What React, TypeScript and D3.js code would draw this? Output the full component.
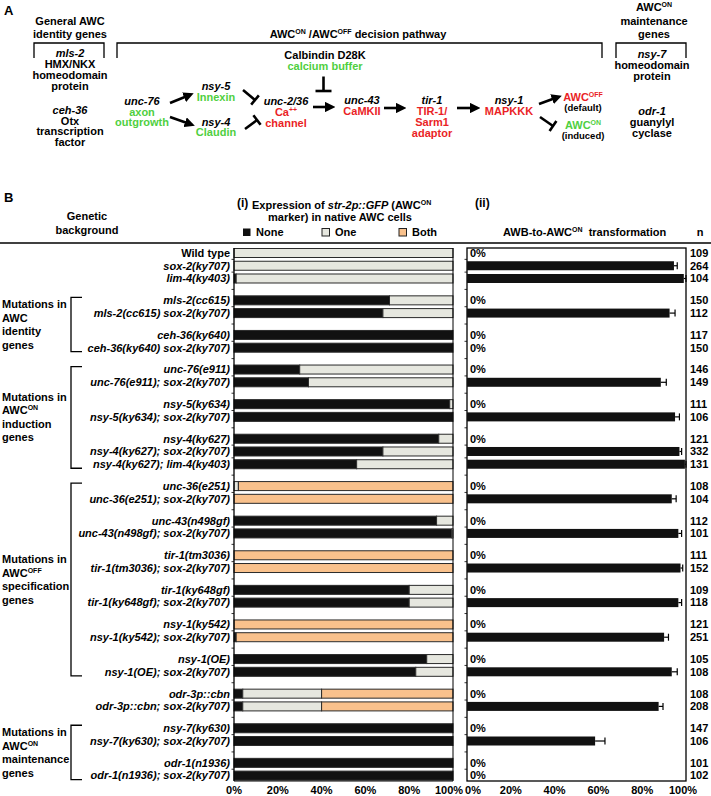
import React from "react";
import * as d3 from "d3";

const rowLabels = [
  "Wild type", "sox-2(ky707)", "lim-4(ky403)",
  "mls-2(cc615)", "mls-2(cc615) sox-2(ky707)",
  "ceh-36(ky640)", "ceh-36(ky640) sox-2(ky707)",
  "unc-76(e911)", "unc-76(e911); sox-2(ky707)",
  "nsy-5(ky634)", "nsy-5(ky634); sox-2(ky707)",
  "nsy-4(ky627)", "nsy-4(ky627); sox-2(ky707)", "nsy-4(ky627); lim-4(ky403)",
  "unc-36(e251)", "unc-36(e251); sox-2(ky707)",
  "unc-43(n498gf)", "unc-43(n498gf); sox-2(ky707)",
  "tir-1(tm3036)", "tir-1(tm3036); sox-2(ky707)",
  "tir-1(ky648gf)", "tir-1(ky648gf); sox-2(ky707)",
  "nsy-1(ky542)", "nsy-1(ky542); sox-2(ky707)",
  "nsy-1(OE)", "nsy-1(OE); sox-2(ky707)",
  "odr-3p::cbn", "odr-3p::cbn; sox-2(ky707)",
  "nsy-7(ky630)", "nsy-7(ky630); sox-2(ky707)",
  "odr-1(n1936)", "odr-1(n1936); sox-2(ky707)",
];
const groupSizes = [3, 2, 2, 2, 2, 3, 2, 2, 2, 2, 2, 2, 2, 2, 2];

const noneVals = [0, 0, 1, 71, 68, 100, 100, 30, 34, 98.5, 100, 93.5, 68, 56, 0, 0, 92.5, 99.5, 0, 0, 80, 80, 0, 1, 88, 83, 4, 4, 100, 100, 100, 100];
const oneVals = [100, 100, 99, 29, 32, 0, 0, 70, 66, 1.5, 0, 6.5, 32, 44, 2, 0, 7.5, 0.5, 0, 0, 20, 20, 0, 0, 12, 17, 36, 36, 0, 0, 0, 0];
const bothVals = [0, 0, 0, 0, 0, 0, 0, 0, 0, 0, 0, 0, 0, 0, 98, 100, 0, 0, 100, 100, 0, 0, 100, 99, 0, 0, 60, 60, 0, 0, 0, 0];

const transVals = [0, 94.5, 99, 0, 92.5, 0, 0, 0, 88.5, 0, 95, 0, 97, 99.5, 0, 93.5, 0, 96.5, 0, 97.5, 0, 96.5, 0, 90, 0, 93.5, 0, 87.5, 0, 58.5, 0, 0];
const transErr = [0, 1.5, 1, 0, 2.5, 0, 0, 0, 2.5, 0, 2, 0, 1, 0.5, 0, 2, 0, 1.5, 0, 1, 0, 1.5, 0, 2, 0, 2.5, 0, 2, 0, 4.5, 0, 0];
const nVals = [109, 264, 104, 150, 112, 117, 150, 146, 149, 111, 106, 121, 332, 131, 108, 104, 112, 101, 111, 152, 109, 118, 121, 251, 105, 108, 108, 208, 147, 106, 101, 102];

const xTicks = [0, 20, 40, 60, 80, 100];

const bracketGroups = [
  { first: 3, last: 6, lines: [["Mutations in"], ["AWC"], ["identity"], ["genes"]] },
  { first: 7, last: 13, lines: [["Mutations in"], ["AWC", "ON"], ["induction"], ["genes"]] },
  { first: 14, last: 25, lines: [["Mutations in"], ["AWC", "OFF"], ["specification"], ["genes"]] },
  { first: 28, last: 31, lines: [["Mutations in"], ["AWC", "ON"], ["maintenance"], ["genes"]] },
];

const FONT = "'Liberation Sans', Arial, Helvetica, sans-serif";
const GREEN = "#4fcf3f";
const RED = "#ea1f26";
const NONE_C = "#111111";
const ONE_C = "#e6e7df";
const BOTH_C = "#f9c18c";

// row index -> position index including group gaps
const rowPos: number[] = [];
{
  let i = 0;
  groupSizes.forEach((s, g) => {
    for (let k = 0; k < s; k++) {
      rowPos.push(i + g * 0.714);
      i++;
    }
  });
}

const W = 711, H = 796;

function Sup({ base, sup, x, y, anchor = "middle", fill = "#000", size = 11, supSize = 7 }: any) {
  return (
    <text x={x} y={y} textAnchor={anchor} fill={fill} fontSize={size} fontWeight="bold" dy="0.35em">
      {base}
      <tspan fontSize={supSize} dy={-4}>{sup}</tspan>
    </text>
  );
}

function T({ x, y, children, fill = "#000", italic = false, size = 11, anchor = "middle" }: any) {
  return (
    <text x={x} y={y} dy="0.35em" textAnchor={anchor} fill={fill} fontSize={size} fontWeight="bold" fontStyle={italic ? "italic" : "normal"}>
      {children}
    </text>
  );
}

function Arrow({ x1, y1, x2, y2 }: any) {
  return <line x1={x1} y1={y1} x2={x2} y2={y2} stroke="#000" strokeWidth={2.6} markerEnd="url(#ah)" />;
}

function Inhibit({ x1, y1, x2, y2, half = 7 }: any) {
  const dx = x2 - x1, dy = y2 - y1;
  const L = Math.hypot(dx, dy);
  const px = -dy / L, py = dx / L;
  return (
    <g stroke="#000" strokeWidth={2.6}>
      <line x1={x1} y1={y1} x2={x2} y2={y2} />
      <line x1={x2 + px * half} y1={y2 + py * half} x2={x2 - px * half} y2={y2 - py * half} />
    </g>
  );
}

export default function App() {
  const xI = d3.scaleLinear().domain([0, 100]).range([234, 453]);
  const xII = d3.scaleLinear().domain([0, 100]).range([467, 686]);
  const maxPos = rowPos[rowPos.length - 1];
  const y = d3.scaleLinear().domain([0, maxPos]).range([253, 775.6]);
  const rowY = (i: number) => y(rowPos[i]);
  const barH = 9;
  const plotTop = 248, plotBot = 781;

  const midTicks: number[] = [];
  for (let i = 0; i < rowLabels.length - 1; i++) midTicks.push((rowY(i) + rowY(i + 1)) / 2);

  return (
    <svg width={W} height={H} style={{ position: "absolute", left: 0, top: 0, background: "#fff" }} fontFamily={FONT}>
      <defs>
        <marker id="ah" viewBox="0 0 10 10" refX="2" refY="5" markerWidth="4" markerHeight="4" orient="auto">
          <path d="M0,0 L10,5 L0,10 z" fill="#000" />
        </marker>
      </defs>
      <rect x={0} y={0} width={W} height={H} fill="#fff" />

      {/* ===== Panel A ===== */}
      <T x={4} y={10} size={13} anchor="start">A</T>
      <T x={70} y={21}>General AWC</T>
      <T x={70} y={34}>identity genes</T>
      <path d="M34,58 V43 H104 V58" fill="none" stroke="#000" strokeWidth={1.3} />
      <path d="M117,58 V43 H602 V58" fill="none" stroke="#000" strokeWidth={1.3} />
      <path d="M616,58 V43 H686 V58" fill="none" stroke="#000" strokeWidth={1.3} />

      <text x={358} y={34} dy="0.35em" textAnchor="middle" fontSize={11} fontWeight="bold">
        AWC<tspan fontSize={7} dy={-4}>ON</tspan><tspan dy={4}> /AWC</tspan><tspan fontSize={7} dy={-4}>OFF</tspan><tspan dy={4}> decision pathway</tspan>
      </text>
      <Sup base="AWC" sup="ON" x={654} y={7} />
      <T x={654} y={21}>maintenance</T>
      <T x={654} y={34}>genes</T>

      <T x={70} y={53.5} italic>mls-2</T>
      <T x={70} y={64.3}>HMX/NKX</T>
      <T x={70} y={75.1}>homeodomain</T>
      <T x={70} y={85.9}>protein</T>
      <T x={70} y={110} italic>ceh-36</T>
      <T x={70} y={120.8}>Otx</T>
      <T x={70} y={131.6}>transcription</T>
      <T x={70} y={142.4}>factor</T>

      <T x={652} y={54.3} italic>nsy-7</T>
      <T x={652} y={65.1}>homeodomain</T>
      <T x={652} y={75.9}>protein</T>
      <T x={652} y={111.2} italic>odr-1</T>
      <T x={652} y={122}>guanylyl</T>
      <T x={652} y={132.8}>cyclase</T>

      <T x={325} y={55.4}>Calbindin D28K</T>
      <T x={325} y={66.2} fill={GREEN}>calcium buffer</T>
      <Inhibit x1={323.5} y1={76.5} x2={323.5} y2={91} half={8} />

      <T x={142} y={101} italic>unc-76</T>
      <T x={142} y={111.8} fill={GREEN}>axon</T>
      <T x={142} y={122.6} fill={GREEN}>outgrowth</T>
      <Arrow x1={170} y1={103} x2={186} y2={96.5} />
      <Arrow x1={170} y1={117} x2={187} y2={123} />

      <T x={216} y={86.3} italic>nsy-5</T>
      <T x={216} y={97.1} fill={GREEN}>Innexin</T>
      <T x={216} y={121.8} italic>nsy-4</T>
      <T x={216} y={132.6} fill={GREEN}>Claudin</T>
      <Inhibit x1={243} y1={90} x2={255} y2={100} half={6} />
      <Inhibit x1={245} y1={129} x2={257} y2={120} half={6} />

      <T x={286} y={101} italic>unc-2/36</T>
      <text x={286} y={112} dy="0.35em" textAnchor="middle" fontSize={11} fontWeight="bold" fill={RED}>
        Ca<tspan fontSize={7} dy={-4}>++</tspan>
      </text>
      <T x={286} y={123} fill={RED}>channel</T>
      <Arrow x1={313} y1={107} x2={327} y2={107} />

      <T x={362} y={100} italic>unc-43</T>
      <T x={362} y={111} fill={RED}>CaMKII</T>
      <Arrow x1={384} y1={108} x2={398} y2={108} />

      <T x={432} y={100} italic>tir-1</T>
      <T x={432} y={111} fill={RED}>TIR-1/</T>
      <T x={432} y={122} fill={RED}>Sarm1</T>
      <T x={432} y={133} fill={RED}>adaptor</T>
      <Arrow x1={457} y1={108} x2={472} y2={108} />

      <T x={509} y={100} italic>nsy-1</T>
      <T x={509} y={111} fill={RED}>MAPKKK</T>
      <Arrow x1={539} y1={104} x2={554} y2={98.5} />
      <Inhibit x1={540} y1={117} x2={553} y2={126} half={6} />

      <Sup base="AWC" sup="OFF" x={583} y={97} fill={RED} />
      <T x={583} y={107.8} size={9.5}>(default)</T>
      <Sup base="AWC" sup="ON" x={583} y={125} fill={GREEN} />
      <T x={583} y={136} size={9.5}>(induced)</T>

      {/* ===== Panel B headers ===== */}
      <T x={4} y={197} size={13} anchor="start">B</T>
      <T x={87} y={216}>Genetic</T>
      <T x={87} y={230}>background</T>

      <T x={237} y={203} size={12} anchor="start">(i)</T>
      <text x={252} y={205} dy="0.35em" fontSize={11} fontWeight="bold">
        Expression of <tspan fontStyle="italic">str-2p::GFP</tspan> (AWC<tspan fontSize={7} dy={-4}>ON</tspan>
      </text>
      <T x={340} y={217}>marker) in native AWC cells</T>
      <rect x={243} y={228.5} width={7.5} height={7.5} fill={NONE_C} />
      <T x={256} y={232} anchor="start">None</T>
      <rect x={322} y={228.5} width={7.5} height={7.5} fill={ONE_C} stroke="#222" strokeWidth={1} />
      <T x={335} y={232} anchor="start">One</T>
      <rect x={399} y={228.5} width={7.5} height={7.5} fill={BOTH_C} stroke="#222" strokeWidth={1} />
      <T x={412} y={232} anchor="start">Both</T>

      <T x={475} y={203} size={12} anchor="start">(ii)</T>
      <text x={503} y={232} dy="0.35em" fontSize={11} fontWeight="bold">
        AWB-to-AWC<tspan fontSize={7} dy={-4}>ON</tspan><tspan dy={4}>{"\u00a0 transformation"}</tspan>
      </text>
      <T x={700} y={232}>n</T>

      <line x1={0} x2={711} y1={243} y2={243} stroke="#000" strokeWidth={1.6} />

      {/* Row labels */}
      {rowLabels.map((lab, i) => (
        <T key={"l" + i} x={230} y={rowY(i)} anchor="end" italic={i !== 0}>{lab}</T>
      ))}

      {/* Group labels & brackets */}
      {bracketGroups.map((g, gi) => {
        const top = rowY(g.first) - 3;
        const bot = rowY(g.last) + 4;
        const mid = (top + bot) / 2;
        const lh = 13.5;
        return (
          <g key={"g" + gi}>
            <path d={`M82,${top} H71 V${bot} H82`} fill="none" stroke="#000" strokeWidth={1.3} />
            {g.lines.map((ln, k) => {
              const yy = mid + (k - 1.5) * lh;
              return ln.length > 1 ? (
                <Sup key={k} base={ln[0]} sup={ln[1]} x={2} y={yy} anchor="start" />
              ) : (
                <T key={k} x={2} y={yy} anchor="start">{ln[0]}</T>
              );
            })}
          </g>
        );
      })}

      {/* Panel (i) bars */}
      {rowLabels.map((_, i) => {
        const segs = [
          { v: noneVals[i], c: NONE_C },
          { v: oneVals[i], c: ONE_C },
          { v: bothVals[i], c: BOTH_C },
        ];
        let acc = 0;
        return (
          <g key={"b" + i}>
            {segs.map((s, k) => {
              const x0 = acc;
              acc += s.v;
              if (s.v <= 0) return null;
              return (
                <rect key={k} x={xI(x0)} y={rowY(i) - barH / 2} width={xI(acc) - xI(x0)} height={barH}
                  fill={s.c} stroke="#2a2a2a" strokeWidth={1} />
              );
            })}
          </g>
        );
      })}
      <line x1={xI(0)} x2={xI(0)} y1={plotTop} y2={plotBot} stroke="#000" strokeWidth={1.3} />
      <line x1={xI(100)} x2={xI(100)} y1={plotTop} y2={plotBot} stroke="#000" strokeWidth={1} />
      <line x1={xI(0)} x2={xI(100)} y1={plotBot} y2={plotBot} stroke="#000" strokeWidth={1} />
      {midTicks.map((t, k) => (
        <line key={"ti" + k} x1={xI(0) - 2.5} x2={xI(0)} y1={t} y2={t} stroke="#000" strokeWidth={0.8} />
      ))}
      {xTicks.map((t) => (
        <T key={"xi" + t} x={xI(t) - (t === 100 ? 4 : 0)} y={790}>{t + "%"}</T>
      ))}

      {/* Panel (ii) */}
      <rect x={xII(0)} y={plotTop} width={xII(100) - xII(0)} height={plotBot - plotTop} fill="none" stroke="#000" strokeWidth={1.3} />
      {midTicks.map((t, k) => (
        <line key={"tii" + k} x1={xII(0) - 2.5} x2={xII(0)} y1={t} y2={t} stroke="#000" strokeWidth={0.8} />
      ))}
      {rowLabels.map((_, i) => {
        const v = transVals[i];
        const cy = rowY(i);
        if (v <= 0) {
          return <T key={"z" + i} x={xII(0) + 3} y={cy} anchor="start">0%</T>;
        }
        const e = transErr[i];
        return (
          <g key={"t" + i}>
            <rect x={xII(0)} y={cy - barH / 2} width={xII(v) - xII(0)} height={barH} fill={NONE_C} />
            <g stroke="#000" strokeWidth={1.2}>
              <line x1={xII(v)} x2={xII(v + e)} y1={cy} y2={cy} />
              <line x1={xII(v + e)} x2={xII(v + e)} y1={cy - 3.5} y2={cy + 3.5} />
            </g>
          </g>
        );
      })}
      {xTicks.map((t) => (
        <T key={"xii" + t} x={xII(t) + (t === 0 ? 6 : 0) - (t === 100 ? 3 : 0)} y={790}>{t + "%"}</T>
      ))}

      {nVals.map((n, i) => (
        <T key={"n" + i} x={690} y={rowY(i)} anchor="start">{n}</T>
      ))}
    </svg>
  );
}
